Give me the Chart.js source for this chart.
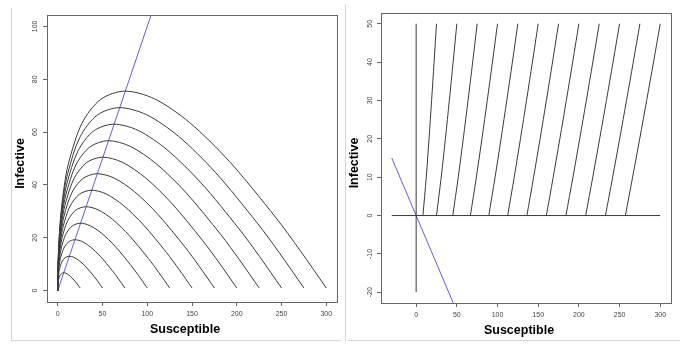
<!DOCTYPE html>
<html>
<head>
<meta charset="utf-8">
<script src="https://cdn.jsdelivr.net/npm/chart.js@4.4.0/dist/chart.umd.min.js"></script>
<style>
  body { margin: 0; background: #fff; }
  #wrap { position: relative; width: 695px; height: 346px; overflow: hidden; }
  canvas { position: absolute; top: 0; }
  .rule { position: absolute; background: #d4d4d4; }
</style>
</head>
<body>
<div id="wrap">
  <canvas id="left" width="345" height="346" style="left:0"></canvas>
  <canvas id="right" width="350" height="346" style="left:345px"></canvas>
  <div class="rule" style="left:11px;top:8px;width:1px;height:332px"></div>
  <div class="rule" style="left:11px;top:340px;width:330px;height:1px"></div>
  <div class="rule" style="left:345px;top:4px;width:1px;height:338px"></div>
  <div class="rule" style="left:348px;top:340px;width:332px;height:1px"></div>
</div>
<script>
// ---- left panel: epidemic paths, one per starting S (I starts at 1) ----
const leftStart = [25, 50, 75, 100, 125, 150, 175, 200, 225, 250, 275, 300];
const leftSusceptible = [
  [0, 0.06, 0.25, 0.56, 1, 2.25, 4, 6.25, 9, 12.25, 16, 20.25, 22.56, 25],
  [0, 0.13, 0.5, 1.13, 2, 4.5, 8, 12.5, 18, 24.5, 32, 40.5, 45.13, 50],
  [0, 0.19, 0.75, 1.69, 3, 6.75, 12, 18.75, 27, 36.75, 48, 60.75, 67.69, 75],
  [0, 0.25, 1, 2.25, 4, 9, 16, 25, 36, 49, 64, 81, 90.25, 100],
  [0, 0.31, 1.25, 2.81, 5, 11.25, 20, 31.25, 45, 61.25, 80, 101.25, 112.81, 125],
  [0, 0.38, 1.5, 3.38, 6, 13.5, 24, 37.5, 54, 73.5, 96, 121.5, 135.38, 150],
  [0, 0.44, 1.75, 3.94, 7, 15.75, 28, 43.75, 63, 85.75, 112, 141.75, 157.94, 175],
  [0, 0.5, 2, 4.5, 8, 18, 32, 50, 72, 98, 128, 162, 180.5, 200],
  [0, 0.56, 2.25, 5.06, 9, 20.25, 36, 56.25, 81, 110.25, 144, 182.25, 203.06, 225],
  [0, 0.63, 2.5, 5.63, 10, 22.5, 40, 62.5, 90, 122.5, 160, 202.5, 225.63, 250],
  [0, 0.69, 2.75, 6.19, 11, 24.75, 44, 68.75, 99, 134.75, 176, 222.75, 248.19, 275],
  [0, 0.75, 3, 6.75, 12, 27, 48, 75, 108, 147, 192, 243, 270.75, 300]
];
const leftInfective = [
  [0, 1.24, 2.35, 3.34, 4.2, 5.55, 6.4, 6.75, 6.6, 5.95, 4.8, 3.15, 2.14, 1],
  [0, 2.43, 4.6, 6.53, 8.2, 10.8, 12.4, 13, 12.6, 11.2, 8.8, 5.4, 3.33, 1],
  [0, 3.61, 6.85, 9.71, 12.2, 16.05, 18.4, 19.25, 18.6, 16.45, 12.8, 7.65, 4.51, 1],
  [0, 4.8, 9.1, 12.9, 16.2, 21.3, 24.4, 25.5, 24.6, 21.7, 16.8, 9.9, 5.7, 1],
  [0, 5.99, 11.35, 16.09, 20.2, 26.55, 30.4, 31.75, 30.6, 26.95, 20.8, 12.15, 6.89, 1],
  [0, 7.18, 13.6, 19.28, 24.2, 31.8, 36.4, 38, 36.6, 32.2, 24.8, 14.4, 8.08, 1],
  [0, 8.36, 15.85, 22.46, 28.2, 37.05, 42.4, 44.25, 42.6, 37.45, 28.8, 16.65, 9.26, 1],
  [0, 9.55, 18.1, 25.65, 32.2, 42.3, 48.4, 50.5, 48.6, 42.7, 32.8, 18.9, 10.45, 1],
  [0, 10.74, 20.35, 28.84, 36.2, 47.55, 54.4, 56.75, 54.6, 47.95, 36.8, 21.15, 11.64, 1],
  [0, 11.93, 22.6, 32.03, 40.2, 52.8, 60.4, 63, 60.6, 53.2, 40.8, 23.4, 12.83, 1],
  [0, 13.11, 24.85, 35.21, 44.2, 58.05, 66.4, 69.25, 66.6, 58.45, 44.8, 25.65, 14.01, 1],
  [0, 14.3, 27.1, 38.4, 48.2, 63.3, 72.4, 75.5, 72.6, 63.7, 48.8, 27.9, 15.2, 1]
];
const leftBlueS = [0, 110];
const leftBlueI = [0, 110];
const leftXTicks = [0, 50, 100, 150, 200, 250, 300];
const leftYTicks = [0, 20, 40, 60, 80, 100];

// ---- right panel: paths starting at I = 50 ----
const rightLevels = [0, 10, 20, 30, 40, 50];
const rightSusceptible = [
  [8.33, 12.43, 15.82, 18.99, 22.04, 25],
  [25, 30.8, 35.94, 40.78, 45.45, 50],
  [45, 51.73, 57.9, 63.77, 69.46, 75],
  [66.67, 73.98, 80.83, 87.4, 93.77, 100],
  [89.29, 97.01, 104.33, 111.39, 118.27, 125],
  [112.5, 120.52, 128.2, 135.63, 142.89, 150],
  [136.11, 144.36, 152.31, 160.03, 167.59, 175],
  [160, 168.43, 176.59, 184.55, 192.34, 200],
  [184.09, 192.67, 201, 209.15, 217.14, 225],
  [208.33, 217.04, 225.51, 233.81, 241.97, 250],
  [232.69, 241.5, 250.1, 258.53, 266.83, 275],
  [257.14, 266.03, 274.74, 283.29, 291.7, 300]
];
const rightHorizS = [-30, 300];
const rightHorizI = [0, 0];
const rightVertS = [0, 0];
const rightVertI = [-20, 50];
const rightBlueS = [-30, 50];
const rightBlueI = [15, -25];
const rightXTicks = [0, 50, 100, 150, 200, 250, 300];
const rightYTicks = [-20, -10, 0, 10, 20, 30, 40, 50];

const INK = '#3a3a3a';
const BLUE = '#6060d8';
const TICK_FONT = { family: '"Liberation Sans", Arial, sans-serif', size: 7 };

function pts(xs, ys) {
  return xs.map((x, i) => ({ x: x, y: ys[i] }));
}

function line(data, color, tension) {
  return {
    data: data, showLine: true, borderColor: color, borderWidth: 1,
    pointRadius: 0, tension: tension, fill: false
  };
}

// box around the plot region + R-style axis titles
const frame = {
  id: 'frame',
  afterDraw(chart) {
    const { ctx, chartArea: a } = chart;
    ctx.save();
    ctx.strokeStyle = '#666';
    ctx.lineWidth = 1;
    ctx.strokeRect(Math.round(a.left) + 0.5, Math.round(a.top) + 0.5,
      Math.round(a.right - a.left), Math.round(a.bottom - a.top));
    ctx.fillStyle = '#000';
    ctx.font = 'bold 12.5px "Liberation Sans", Arial, sans-serif';
    ctx.textAlign = 'center';
    ctx.textBaseline = 'middle';
    ctx.fillText('Susceptible', (a.left + a.right) / 2 - 7, a.bottom + 28);
    ctx.translate(a.left - 26, (a.top + a.bottom) / 2 + 5);
    ctx.rotate(-Math.PI / 2);
    ctx.fillText('Infective', 0, 0);
    ctx.restore();
  }
};

function axis(min, max, tickVals, vertical, size) {
  return {
    type: 'linear', min: min, max: max,
    afterBuildTicks: s => { s.ticks = tickVals.map(v => ({ value: v })); },
    afterFit: s => { if (vertical) s.width = size; else s.height = size; },
    grid: { drawOnChartArea: false, drawTicks: true, tickLength: 4, tickColor: '#666' },
    border: { display: true, color: '#666' },
    ticks: vertical
      ? { font: TICK_FONT, color: '#444', padding: 2, minRotation: 90, maxRotation: 90, crossAlign: 'center' }
      : { font: TICK_FONT, color: '#444', padding: 4, maxRotation: 0 }
  };
}

function makeChart(id, datasets, xAxis, yAxis, pad) {
  return new Chart(document.getElementById(id), {
    type: 'scatter',
    data: { datasets: datasets },
    options: {
      responsive: false,
      animation: false,
      layout: { padding: pad },
      plugins: { legend: { display: false }, tooltip: { enabled: false } },
      scales: { x: xAxis, y: yAxis }
    },
    plugins: [frame]
  });
}

const leftSets = leftStart.map((s0, k) => line(pts(leftSusceptible[k], leftInfective[k]), INK, 0.3));
leftSets.push(line(pts(leftBlueS, leftBlueI), BLUE, 0));

makeChart('left', leftSets,
  axis(-12, 312, leftXTicks, false, 44),
  axis(-4.32, 104.32, leftYTicks, true, 47),
  { left: 0, top: 15, right: 8, bottom: 0 });

const rightSets = rightSusceptible.map(xs => line(pts(xs, rightLevels), INK, 0.3));
rightSets.push(line(pts(rightHorizS, rightHorizI), INK, 0));
rightSets.push(line(pts(rightVertS, rightVertI), INK, 0));
rightSets.push(line(pts(rightBlueS, rightBlueI), BLUE, 0));

makeChart('right', rightSets,
  axis(-43.2, 313.2, rightXTicks, false, 43),
  axis(-22.8, 52.8, rightYTicks, true, 36),
  { left: 0, top: 13, right: 24, bottom: 0 });
</script>
</body>
</html>
